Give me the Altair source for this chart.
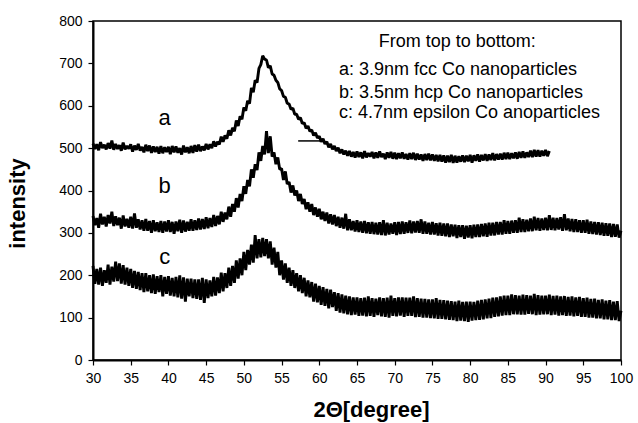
import altair as alt
import pandas as pd

# ---- data (x step 0.25 degree) ----
a_start, b_start, c_start, step = 30.0, 30.0, 30.0, 0.25

a_vals = [
    511, 498, 509, 495, 514, 500, 508, 497, 512, 499, 518, 496, 510, 498, 507, 494,
    513, 497, 505, 499, 509, 492, 506, 496, 510, 494, 503, 490, 508, 493, 506, 489,
    504, 491, 503, 487, 505, 488, 502, 491, 503, 486, 505, 490, 504, 489, 500, 485,
    506, 490, 502, 488, 505, 489, 507, 492, 508, 493, 504, 495, 510, 497, 509, 500,
    516, 504, 515, 509, 527, 515, 530, 522, 542, 530, 548, 540, 565, 552, 575, 568,
    596, 588, 612, 605, 642, 632, 660, 655, 688, 697, 718, 710, 708, 690, 694, 675,
    672, 660, 655, 640, 636, 622, 620, 606, 604, 592, 594, 580, 580, 568, 572, 558,
    560, 547, 552, 540, 543, 530, 536, 524, 528, 515, 522, 510, 515, 502, 510, 497,
    505, 493, 501, 488, 497, 485, 494, 482, 493, 480, 491, 478, 492, 479, 490, 476,
    493, 478, 488, 480, 491, 476, 490, 477, 492, 479, 487, 474, 490, 477, 491, 475,
    489, 474, 488, 476, 490, 475, 486, 473, 488, 474, 489, 472, 487, 473, 485, 470,
    486, 472, 487, 471, 485, 470, 484, 469, 484, 468, 483, 466, 482, 467, 484, 465,
    482, 466, 481, 468, 483, 467, 482, 469, 484, 466, 483, 470, 485, 468, 484, 471,
    486, 470, 485, 472, 488, 471, 486, 473, 487, 473, 489, 474, 489, 474, 488, 476,
    490, 475, 491, 477, 492, 477, 490, 479, 494, 479, 496, 480, 495, 480, 494, 482,
    496, 481, 493]

b_vals = [
    340, 318, 335, 312, 345, 320, 338, 315, 342, 322, 350, 316, 339, 318, 336, 310,
    341, 315, 333, 312, 338, 310, 346, 312, 332, 308, 330, 305, 333, 305, 328, 300,
    330, 304, 325, 302, 328, 300, 327, 303, 330, 302, 326, 298, 327, 304, 331, 300,
    329, 303, 326, 305, 332, 305, 330, 307, 334, 308, 333, 309, 337, 311, 335, 314,
    342, 316, 340, 320, 350, 326, 348, 332, 362, 338, 368, 350, 382, 360, 392, 375,
    410, 392, 425, 410, 450, 430, 462, 448, 490, 470, 505, 485, 540, 488, 528, 480,
    490, 462, 478, 450, 452, 425, 445, 415, 420, 395, 412, 388, 400, 375, 392, 368,
    380, 356, 372, 350, 368, 342, 360, 338, 357, 332, 350, 328, 348, 322, 344, 320,
    342, 316, 338, 312, 336, 310, 345, 306, 332, 306, 328, 303, 330, 302, 327, 300,
    328, 299, 325, 298, 326, 297, 324, 296, 325, 295, 330, 294, 324, 296, 322, 298,
    325, 295, 326, 297, 327, 298, 325, 300, 329, 299, 327, 301, 328, 300, 332, 298,
    327, 298, 324, 296, 326, 296, 323, 294, 324, 293, 322, 292, 322, 290, 320, 292,
    319, 288, 318, 290, 318, 286, 317, 289, 318, 287, 319, 290, 320, 290, 321, 292,
    322, 291, 324, 294, 324, 294, 326, 296, 326, 296, 330, 298, 328, 298, 329, 300,
    330, 300, 336, 302, 332, 302, 331, 304, 334, 304, 338, 306, 335, 305, 334, 307,
    336, 306, 342, 307, 336, 306, 335, 308, 337, 305, 344, 306, 334, 304, 333, 302,
    332, 302, 330, 300, 330, 300, 331, 298, 327, 297, 326, 296, 325, 295, 324, 293,
    323, 293, 322, 290, 321, 291, 320, 289, 305]

c_vals = [
    222, 180, 215, 178, 218, 175, 212, 182, 225, 178, 220, 185, 232, 186, 228, 180,
    224, 178, 218, 175, 215, 170, 210, 168, 208, 165, 205, 160, 205, 162, 200, 158,
    202, 156, 198, 160, 200, 150, 196, 156, 198, 152, 194, 150, 196, 148, 200, 145,
    195, 138, 192, 150, 192, 146, 190, 144, 190, 142, 194, 135, 190, 146, 188, 150,
    196, 152, 195, 158, 206, 162, 205, 170, 218, 175, 222, 182, 235, 192, 240, 200,
    255, 212, 260, 225, 272, 230, 295, 240, 285, 242, 288, 245, 285, 240, 280, 225,
    265, 218, 255, 200, 235, 190, 228, 182, 218, 175, 212, 170, 205, 162, 200, 158,
    194, 150, 188, 148, 184, 138, 180, 136, 175, 130, 172, 128, 168, 122, 166, 125,
    160, 116, 158, 112, 155, 110, 152, 108, 150, 106, 148, 107, 148, 104, 146, 105,
    147, 103, 150, 104, 146, 102, 145, 106, 148, 103, 146, 102, 147, 100, 152, 104,
    146, 103, 148, 105, 148, 102, 147, 104, 147, 104, 150, 101, 146, 102, 145, 100,
    144, 100, 143, 99, 143, 98, 146, 97, 142, 97, 141, 96, 140, 95, 139, 94,
    138, 92, 140, 93, 137, 92, 138, 90, 138, 93, 137, 94, 140, 95, 142, 96,
    143, 98, 145, 99, 147, 102, 148, 103, 150, 105, 152, 106, 152, 106, 155, 108,
    153, 108, 152, 107, 154, 107, 153, 109, 152, 108, 156, 106, 153, 107, 152, 108,
    152, 108, 154, 106, 151, 107, 152, 105, 150, 106, 151, 104, 149, 105, 150, 103,
    148, 104, 149, 102, 146, 102, 147, 100, 144, 100, 145, 98, 142, 98, 143, 96,
    140, 96, 141, 94, 138, 94, 139, 92, 116]

curve_labels = ["a", "b", "c"]
label_x = [39.5, 39.5, 39.5]
label_y = [571, 410, 243]

legend_title = "From top to bottom:"
legend_lines = ["a: 3.9nm fcc Co nanoparticles",
                "b: 3.5nm hcp Co nanoparticles",
                "c: 4.7nm epsilon Co anoparticles"]
legend_title_pos = (78.3, 751)
legend_x = 62.6
legend_y = [684, 630, 583]

stub_x, stub_x2, stub_y = [57.2], [60.1], [517]

x_ticks = list(range(30, 101, 5))
y_ticks = list(range(0, 801, 100))

frames = []
for name, start, vals in (("a", a_start, a_vals), ("b", b_start, b_vals), ("c", c_start, c_vals)):
    frames.append(pd.DataFrame({
        "series": name,
        "x": [start + i * step for i in range(len(vals))],
        "y": vals,
    }))
df = pd.concat(frames, ignore_index=True)

FONT = "Liberation Sans"

xs = alt.Scale(domain=[30, 100], nice=False, zero=False)
ys = alt.Scale(domain=[0, 800], nice=False)

x_axis = alt.Axis(values=x_ticks, title="2Θ[degree]", grid=False, labelFontSize=14,
                  labelFont=FONT, labelColor="black", titleFont=FONT, titleFontSize=22,
                  titleFontWeight="bold", titleColor="black", domainColor="black",
                  domainWidth=2, tickColor="black", tickSize=5, tickWidth=1.2,
                  labelPadding=6, labelOverlap=False, labelFlush=False,
                  titleX=278, titleY=56, titleBaseline="alphabetic")
y_axis = alt.Axis(values=y_ticks, title="intensity", grid=False, labelFontSize=14,
                  labelFont=FONT, labelColor="black", titleFont=FONT, titleFontSize=22,
                  titleFontWeight="bold", titleColor="black", domainColor="black",
                  domainWidth=2, tickColor="black", tickSize=5, tickWidth=1.2,
                  labelPadding=6, labelOverlap=False, labelFlush=False, titleX=-64,
                  titleY=182)

X = lambda f: alt.X(f, scale=xs, axis=x_axis)
Y = lambda f: alt.Y(f, scale=ys, axis=y_axis)

lines = alt.Chart(df).mark_line(color="black", strokeWidth=2.9, strokeJoin="bevel").encode(
    x=X("x:Q"), y=Y("y:Q"), detail="series:N",
)

lab_df = pd.DataFrame({"t": curve_labels, "x": label_x, "y": label_y})
labels = alt.Chart(lab_df).mark_text(font=FONT, fontSize=22, color="black").encode(
    x=X("x:Q"), y=Y("y:Q"), text="t:N")

lt_df = pd.DataFrame({"t": [legend_title], "x": [legend_title_pos[0]], "y": [legend_title_pos[1]]})
ltitle = alt.Chart(lt_df).mark_text(font=FONT, fontSize=18, color="black", align="center").encode(
    x=X("x:Q"), y=Y("y:Q"), text="t:N")

ll_df = pd.DataFrame({"t": legend_lines, "x": [legend_x] * 3, "y": legend_y})
llines = alt.Chart(ll_df).mark_text(font=FONT, fontSize=18, color="black", align="left").encode(
    x=X("x:Q"), y=Y("y:Q"), text="t:N")

stub_df = pd.DataFrame({"x": stub_x, "x2": stub_x2, "y": stub_y})
stub = alt.Chart(stub_df).mark_rule(color="black", strokeWidth=1.5).encode(
    x=X("x:Q"), x2="x2:Q", y=Y("y:Q"))

chart = alt.layer(lines, stub, labels, ltitle, llines).properties(
    width=528, height=339,
    padding={"left": 93, "top": 21, "right": 17, "bottom": 63},
    autosize="none",
    background="white",
).configure_view(stroke="black", strokeWidth=1.5).configure_axis(labelOverlap=False)

chart.save("out.html", embed_options={"renderer": "svg", "actions": False})
